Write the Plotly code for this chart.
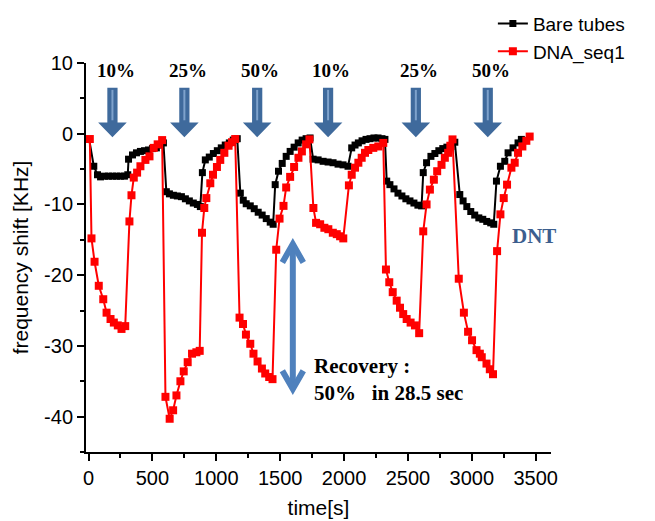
import plotly.graph_objects as go

# ---------------- data ----------------
black_t = [5, 41, 70, 94, 125, 156, 188, 219, 250, 281,
           307, 313, 344, 375, 406, 438, 469, 500, 531, 563,
           586, 609, 633, 664, 695, 727, 758, 789, 820, 852,
           875, 891, 914, 945, 977, 1008, 1039, 1070, 1102, 1133,
           1164, 1188, 1211, 1234, 1266, 1297, 1328, 1359, 1391, 1422,
           1445, 1461, 1487, 1516, 1547, 1578, 1609, 1641, 1672, 1703,
           1734, 1758, 1797, 1836, 1875, 1914, 1953, 1992, 2031, 2060,
           2086, 2112, 2141, 2172, 2203, 2234, 2266, 2297, 2320, 2334,
           2359, 2391, 2422, 2453, 2484, 2516, 2547, 2578, 2607, 2620,
           2646, 2680, 2711, 2742, 2773, 2805, 2836, 2867, 2906, 2932,
           2961, 2992, 3023, 3055, 3086, 3117, 3148, 3172, 3193, 3224,
           3258, 3284, 3323, 3362, 3388]
black_v = [-0.8, -4.6, -5.8, -6.1, -6.0, -6.0, -6.0, -6.0, -6.0, -6.0,
           -5.8, -3.6, -3.0, -2.7, -2.5, -2.4, -2.3, -2.1, -2.0, -1.6,
           -1.3, -8.2, -8.5, -8.7, -8.8, -8.9, -9.2, -9.5, -9.8, -10.0,
           -10.3, -5.5, -3.7, -3.3, -2.8, -2.4, -2.0, -1.6, -1.3, -0.9,
           -0.7, -8.4, -9.4, -9.9, -10.2, -10.6, -11.1, -11.5, -12.0, -12.5,
           -12.8, -7.2, -5.3, -4.2, -3.2, -2.5, -1.9, -1.3, -0.9, -0.7,
           -0.6, -3.6, -3.7, -3.9, -4.0, -4.1, -4.3, -4.4, -4.6, -2.0,
           -1.6, -1.3, -1.0, -0.8, -0.7, -0.6, -0.6, -0.7, -0.8, -6.7,
           -7.2, -7.8, -8.4, -8.8, -9.2, -9.5, -9.8, -10.1, -10.2, -5.5,
           -4.1, -3.2, -2.8, -2.4, -2.1, -1.9, -1.8, -1.2, -8.6, -9.5,
           -10.3, -11.0, -11.5, -11.9, -12.1, -12.4, -12.6, -12.8, -6.7, -4.6,
           -3.9, -2.7, -2.0, -1.3, -0.8]

red_t = [10, 23, 47, 80, 115, 141, 172, 198, 229, 258,
         287, 320, 336, 354, 380, 406, 445, 477, 510, 541,
         576, 602, 635, 662, 688, 719, 745, 776, 810, 844,
         870, 888, 906, 922, 953, 974, 1005, 1031, 1063, 1096,
         1123, 1148, 1182, 1209, 1232, 1266, 1291, 1323, 1357, 1383,
         1414, 1440, 1469, 1495, 1526, 1547, 1578, 1609, 1643, 1670,
         1703, 1729, 1760, 1781, 1813, 1846, 1877, 1912, 1943, 1969,
         1994, 2038, 2060, 2086, 2112, 2138, 2164, 2190, 2229, 2268,
         2307, 2328, 2354, 2381, 2412, 2438, 2463, 2490, 2521, 2555,
         2588, 2620, 2646, 2672, 2703, 2729, 2763, 2789, 2815, 2832,
         2849, 2898, 2938, 2971, 3002, 3037, 3063, 3078, 3115, 3141,
         3166, 3198, 3224, 3250, 3276, 3310, 3336, 3362, 3396, 3427,
         3453]
red_v = [-0.75, -14.8, -18.1, -21.5, -23.4, -25.3, -26.2, -26.7, -27.1, -27.6,
         -27.2, -12.4, -8.7, -6.2, -5.5, -4.6, -3.7, -3.2, -2.0, -1.5,
         -0.9, -37.2, -40.3, -39.1, -37.0, -35.0, -33.6, -32.3, -31.1, -30.9,
         -30.7, -14.0, -10.5, -9.1, -7.0, -5.8, -4.7, -3.7, -2.7, -1.7,
         -1.2, -0.75, -26.0, -26.9, -28.4, -29.7, -31.1, -32.2, -33.2, -33.9,
         -34.4, -34.7, -16.4, -12.0, -10.2, -7.6, -6.1, -4.7, -3.4, -2.5,
         -1.5, -0.8, -10.5, -12.6, -12.8, -13.3, -13.5, -14.0, -14.2, -14.5,
         -14.8, -7.3, -5.8, -4.8, -4.1, -3.4, -2.7, -2.3, -2.0, -1.8,
         -1.3, -19.2, -21.0, -22.4, -23.6, -24.6, -25.5, -26.2, -26.7, -27.1,
         -28.2, -13.8, -10.0, -7.9, -6.5, -5.3, -4.4, -3.4, -2.7, -1.7,
         -0.8, -20.5, -25.3, -28.0, -29.2, -30.6, -31.1, -31.6, -32.5, -33.3,
         -34.0, -16.6, -11.4, -9.1, -7.2, -4.8, -4.1, -2.7, -1.8, -1.0,
         -0.4]

pulse_times = [187, 750, 1320, 1875, 2562, 3125]
pulse_labels = ["10%", "25%", "50%", "10%", "25%", "50%"]

x_ticks = [0, 500, 1000, 1500, 2000, 2500, 3000, 3500]
y_ticks = [-40, -30, -20, -10, 0, 10]

SANS = "Arial, Liberation Sans, sans-serif"
SERIF = "Times New Roman, Liberation Serif, serif"
ARROW_BLUE = "#3F6A9C"
ARROW_LIGHT = "#7EA2CC"
DOUBLE_BLUE = "#4F81BD"

fig = go.Figure()
fig.add_trace(go.Scatter(
    x=black_t, y=black_v, mode="lines+markers", name="Bare tubes",
    line=dict(color="black", width=2),
    marker=dict(symbol="square", size=7, color="black"),
))
fig.add_trace(go.Scatter(
    x=red_t, y=red_v, mode="lines+markers", name="DNA_seq1",
    line=dict(color="#FF0000", width=2),
    marker=dict(symbol="square", size=8, color="#FF0000"),
))

shapes = []
annotations = []
# block arrows + percentage labels
for t, lab in zip(pulse_times, pulse_labels):
    sw, hw = 40, 112
    top, base, tip = 6.5, 1.6, -0.5
    path = (f"M {t-sw},{top} L {t+sw},{top} L {t+sw},{base} L {t+hw},{base} "
            f"L {t},{tip} L {t-hw},{base} L {t-sw},{base} Z")
    shapes.append(dict(type="path", path=path, xref="x", yref="y",
                       fillcolor=ARROW_BLUE, line=dict(width=0), layer="above"))
    shapes.append(dict(type="line", x0=t, x1=t, y0=top - 0.3, y1=base + 0.3,
                       xref="x", yref="y", line=dict(color=ARROW_LIGHT, width=2)))
    annotations.append(dict(x=t + 25, y=9.0, xref="x", yref="y", text=f"<b>{lab}</b>",
                            showarrow=False, xanchor="center", yanchor="middle",
                            font=dict(family=SERIF, size=19, color="black")))

# double-headed recovery arrow
xa, ytop, ybot = 1599, -15.6, -36.1
shapes.append(dict(type="line", x0=xa, x1=xa, y0=ytop - 0.4, y1=ybot + 0.4,
                   xref="x", yref="y", line=dict(color=DOUBLE_BLUE, width=6)))
for yt, d in ((ytop, -1), (ybot, 1)):
    shapes.append(dict(type="path", xref="x", yref="y",
                       path=f"M {xa-82},{yt + d*2.6} L {xa},{yt} L {xa+82},{yt + d*2.6}",
                       line=dict(color=DOUBLE_BLUE, width=6)))

annotations.append(dict(x=1750, y=-32.8, xref="x", yref="y", text="<b>Recovery :</b>",
                        showarrow=False, xanchor="left", yanchor="middle",
                        font=dict(family=SERIF, size=21, color="black")))
annotations.append(dict(x=1750, y=-36.7, xref="x", yref="y",
                        text="<b>50%\u00a0\u00a0 in 28.5 sec</b>",
                        showarrow=False, xanchor="left", yanchor="middle",
                        font=dict(family=SERIF, size=21, color="black")))
annotations.append(dict(x=3490, y=-14.5, xref="x", yref="y", text="<b>DNT</b>",
                        showarrow=False, xanchor="center", yanchor="middle",
                        font=dict(family=SERIF, size=21, color="#3C5E8E")))

# page body has an 8px default margin; size the figure to fit the window
fig.update_layout(
    width=647, height=513,
    margin=dict(l=78, r=104, t=55, b=69, autoexpand=False),
    paper_bgcolor="white", plot_bgcolor="white",
    font=dict(family=SANS, size=20, color="black"),
    showlegend=True,
    legend=dict(x=0.875, y=1.15, xanchor="left", yanchor="top",
                bgcolor="rgba(0,0,0,0)", font=dict(family=SANS, size=19),
                tracegroupgap=0, itemwidth=30),
    shapes=shapes,
    annotations=annotations,
)
fig.update_xaxes(
    range=[-20, 3620], tickvals=x_ticks, ticktext=[str(v) for v in x_ticks],
    showgrid=False, zeroline=False, showline=True, linecolor="black", linewidth=2,
    ticks="outside", ticklen=7, tickwidth=2, tickcolor="black",
    minor=dict(dtick=250, tick0=0, ticks="outside", ticklen=4, tickwidth=2, tickcolor="black"),
    tickfont=dict(family=SANS, size=20),
    title=dict(text="time[s]", font=dict(family=SANS, size=21), standoff=12),
)
fig.update_yaxes(
    range=[-45, 10], tickvals=y_ticks, ticktext=[str(v) for v in y_ticks],
    showgrid=False, zeroline=False, showline=True, linecolor="black", linewidth=2,
    ticks="outside", ticklen=7, tickwidth=2, tickcolor="black",
    minor=dict(dtick=5, tick0=0, ticks="outside", ticklen=4, tickwidth=2, tickcolor="black"),
    tickfont=dict(family=SANS, size=20),
    title=dict(text="frequency shift [KHz]", font=dict(family=SANS, size=21), standoff=10),
)

fig.write_html("out.html")
